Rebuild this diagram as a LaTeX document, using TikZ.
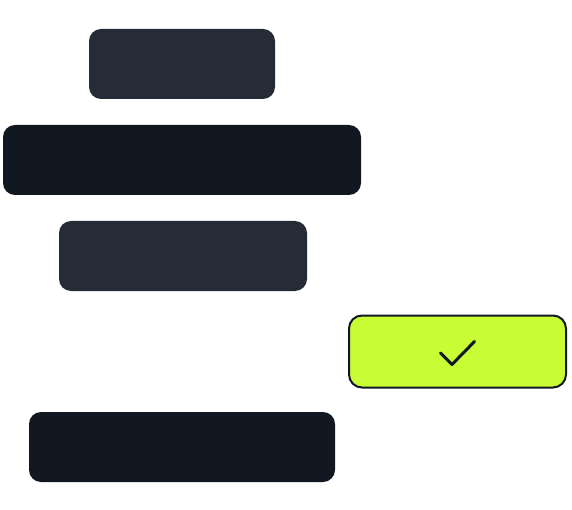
\documentclass[tikz,border=0pt]{standalone}
\usepackage{xcolor}
\definecolor{slate}{HTML}{252C37}
\definecolor{ink}{HTML}{111821}
\definecolor{lime}{HTML}{C8FC35}

\begin{document}
\begin{tikzpicture}[x=1pt, y=-1pt,
  bar/.style={rounded corners=12pt, inner sep=0pt, minimum height=70pt},
  okbox/.style={draw=ink, line width=2pt, fill=lime, rounded corners=13pt, inner sep=0pt, minimum width=217pt, minimum height=72pt},
  check/.style={draw=ink, line width=3pt, line cap=round, line join=round}]
  \useasboundingbox (0,0) rectangle (572,510);
  \node[bar, fill=slate, minimum width=186pt] (row1) at (182,64) {};
  \node[bar, fill=ink, minimum width=358pt] (row2) at (182,160) {};
  \node[bar, fill=slate, minimum width=248pt] (row3) at (183,256) {};
  \node[okbox] (ok) at (457.5,351.5) {};
  \node[bar, fill=ink, minimum width=306pt] (row4) at (182,447) {};
  % tick inside the button
  \draw[check] ([shift={(-17,1.5)}]ok.center) -- ([shift={(-5.5,13)}]ok.center) -- ([shift={(17,-10)}]ok.center);
\end{tikzpicture}
\end{document}
